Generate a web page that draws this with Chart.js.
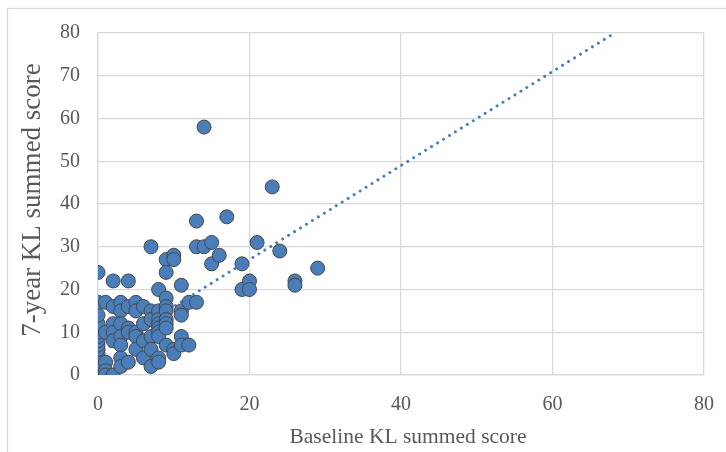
<!DOCTYPE html>
<html><head><meta charset="utf-8">
<script src="https://cdn.jsdelivr.net/npm/chart.js@4/dist/chart.umd.min.js"></script>
<style>html,body{margin:0;padding:0;background:#fff;}#wrap{width:726px;height:452px;position:relative}</style>
</head><body><div id="wrap"><canvas id="c" width="726" height="452"></canvas></div>
<script>
// Scatter data: baseline KL summed score (x) vs 7-year KL summed score (y)
const baselineScores = [
  0,0,0,0,0,0,0,0,0,0,0,0,0,0,0,0,
  1,1,1,1,1,
  2,2,2,2,2,2,
  3,3,3,3,3,3,3,
  4,4,4,4,4,
  5,5,5,5,5,
  6,6,6,6,
  7,7,7,7,7,7,
  8,8,8,8,8,8,8,8,8,
  9,9,9,9,9,9,9,9,9,
  10,10,10,10,
  11,11,11,11,11,
  12,12,
  13,13,13,
  14,14,
  15,15,
  16,
  17,
  19,19,
  20,20,
  21,
  23,
  24,
  26,26,
  29
];
const sevenYearScores = [
  0,1,2,3,4,5,6,7,8,9,10,11,12,14,17,24,
  17,10,3,1,0,
  22,16,12,10,8,0,
  17,15,12,9,7,4,2,
  22,16,11,10,3,
  17,15,10,9,6,
  16,12,8,4,
  30,15,13,9,6,2,
  20,15,13,12,11,10,9,4,3,
  27,24,18,16,15,13,12,11,7,
  28,27,6,5,
  21,15,14,9,7,
  17,7,
  36,30,17,
  58,30,
  31,26,
  28,
  37,
  26,20,
  22,20,
  31,
  44,
  29,
  22,21,
  25
];
// Linear trend line end points
const trendX = [0, 68.2];
const trendY = [5.0, 80];
// Axis ticks
const xTicks = [0, 20, 40, 60, 80];
const yTicks = [0, 10, 20, 30, 40, 50, 60, 70, 80];
const xTitle = 'Baseline KL summed score';
const yTitle = '7-year KL summed score';

const FONT = "'Liberation Serif', 'Times New Roman', serif";
const TXT = '#595959';
const GRID = '#d9d9d9';

const framePlugin = {
  id: 'frame',
  beforeDraw(chart) {
    const ctx = chart.ctx;
    ctx.save();
    ctx.fillStyle = '#fff';
    ctx.fillRect(0, 0, chart.width, chart.height);
    ctx.strokeStyle = '#d9d9d9';
    ctx.lineWidth = 1.3;
    ctx.strokeRect(7.5, 8.5, 740, 460);
    ctx.restore();
  },
  afterDraw(chart) {
    const ctx = chart.ctx;
    ctx.save();
    ctx.fillStyle = TXT;
    ctx.font = "21.5px " + FONT;
    ctx.textAlign = 'center';
    ctx.textBaseline = 'middle';
    ctx.fillText(xTitle, 408, 437);
    ctx.translate(33, 200);
    ctx.rotate(-Math.PI / 2);
    ctx.font = "27px " + FONT;
    ctx.fillText(yTitle, 0, 0);
    ctx.restore();
  }
};

new Chart(document.getElementById('c'), {
  type: 'scatter',
  data: {
    datasets: [
      {
        label: 'Scores',
        data: baselineScores.map((x, i) => ({ x: x, y: sevenYearScores[i] })),
        backgroundColor: '#4a7ebb',
        borderColor: '#474747',
        borderWidth: 1,
        pointRadius: 7,
        order: 0
      },
      {
        label: 'Trend',
        data: trendX.map((x, i) => ({ x: x, y: trendY[i] })),
        showLine: true,
        pointRadius: 0,
        borderColor: '#4a7ebb',
        borderWidth: 3,
        borderDash: [0.01, 7],
        borderCapStyle: 'round',
        order: 1
      }
    ]
  },
  options: {
    responsive: false,
    devicePixelRatio: 1,
    animation: false,
    layout: { padding: { left: 0, top: 33, right: 22, bottom: 0 } },
    plugins: { legend: { display: false }, tooltip: { enabled: false } },
    scales: {
      x: {
        type: 'linear', min: 0, max: 80,
        afterBuildTicks: s => { s.ticks = xTicks.map(v => ({ value: v })); },
        afterFit: s => { s.height = 77; s.paddingRight = 0; s.paddingLeft = 0; },
        grid: { color: GRID, lineWidth: 1.3, drawTicks: false },
        border: { color: GRID, width: 1.3 },
        ticks: { padding: 18, color: TXT, font: { family: FONT, size: 20 }, maxRotation: 0 }
      },
      y: {
        type: 'linear', min: 0, max: 80,
        afterBuildTicks: s => { s.ticks = yTicks.map(v => ({ value: v })); },
        afterFit: s => { s.width = 98; s.paddingTop = 0; s.paddingBottom = 0; },
        grid: { color: GRID, lineWidth: 1.3, drawTicks: false },
        border: { color: GRID, width: 1.3 },
        ticks: { padding: 18, color: TXT, font: { family: FONT, size: 20 } }
      }
    }
  },
  plugins: [framePlugin]
});
</script>
</body></html>
